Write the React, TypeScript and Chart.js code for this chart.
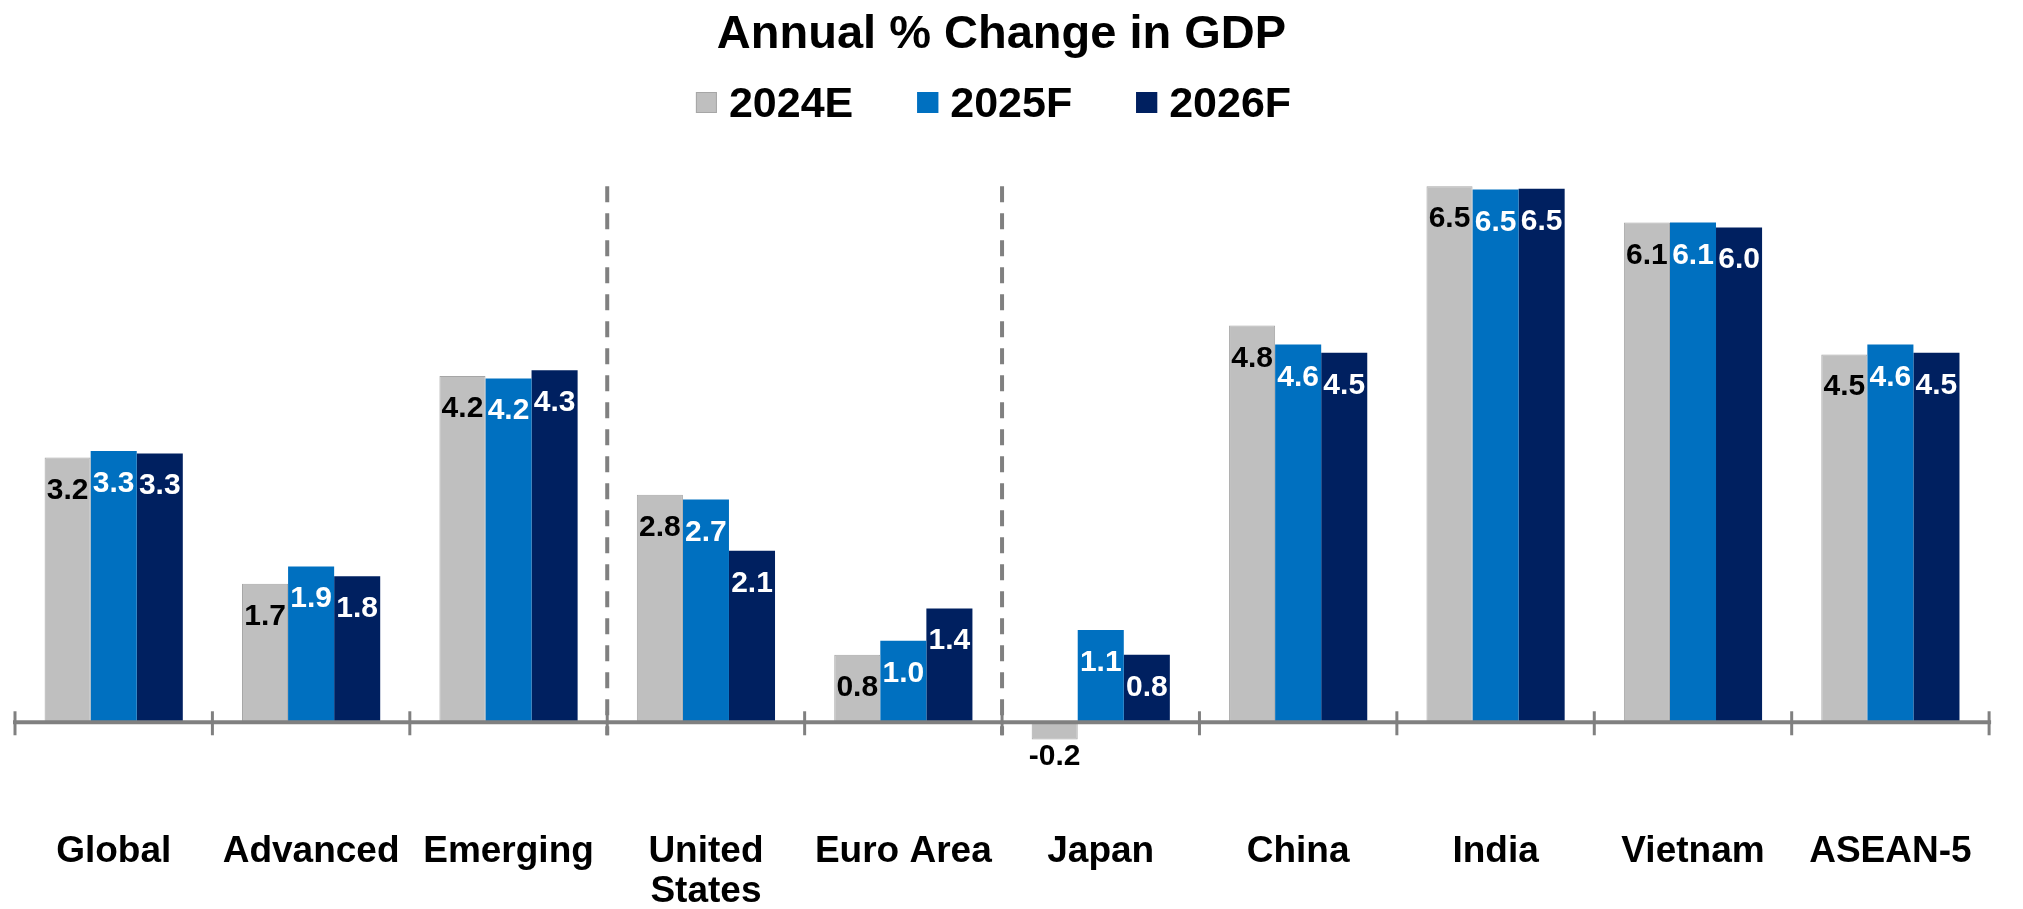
import React, { useEffect, useRef } from "react";
import { Chart, registerables } from "chart.js";

Chart.register(...registerables);

// ---------- data ----------
const categories: (string | string[])[] = [
  "Global",
  "Advanced",
  "Emerging",
  ["United", "States"],
  "Euro Area",
  "Japan",
  "China",
  "India",
  "Vietnam",
  "ASEAN-5",
];
const seriesNames = ["2024E", "2025F", "2026F"];
const values2024E = [3.21, 1.68, 4.2, 2.76, 0.82, -0.21, 4.81, 6.5, 6.06, 4.46];
const values2025F = [3.29, 1.89, 4.17, 2.7, 0.99, 1.12, 4.58, 6.46, 6.06, 4.58];
const values2026F = [3.26, 1.77, 4.27, 2.08, 1.38, 0.82, 4.48, 6.47, 6.0, 4.48];
const titleText = "Annual % Change in GDP";

// ---------- styling ----------
const seriesColors = ["#BFBFBF", "#0070C0", "#002060"];
const seriesBorders = ["#A6A6A6", "#0070C0", "#002060"];
const labelColors = ["#000000", "#FFFFFF", "#FFFFFF"];
const dividerAfter = [2, 4]; // dashed separators after these category indexes
const dividerTopValue = 6.5;
const yMin = -0.7;
const yMax = 7.0;
const FONT = '"Liberation Sans", Arial, Helvetica, sans-serif';
const AXIS_GRAY = "#808080";
const X_AXIS_HEIGHT = 129;

const decorPlugin = {
  id: "decor",
  beforeDatasetsDraw(chart: any) {
    const { ctx } = chart;
    const x = chart.scales.x;
    const y = chart.scales.y;
    const n = chart.data.labels.length;
    const w = (x.right - x.left) / n;
    const y0 = y.getPixelForValue(0);
    const yTop = y.getPixelForValue(dividerTopValue);
    ctx.save();
    ctx.strokeStyle = AXIS_GRAY;
    ctx.lineWidth = 4;
    ctx.setLineDash([16, 11]);
    dividerAfter.forEach((i) => {
      const bx = x.left + (i + 1) * w;
      ctx.beginPath();
      ctx.moveTo(bx, yTop);
      ctx.lineTo(bx, y0 + 13);
      ctx.stroke();
    });
    ctx.restore();
  },
  afterDatasetsDraw(chart: any) {
    const { ctx } = chart;
    const x = chart.scales.x;
    const y = chart.scales.y;
    const n = chart.data.labels.length;
    const w = (x.right - x.left) / n;
    const y0 = y.getPixelForValue(0);
    ctx.save();
    // axis line
    ctx.strokeStyle = AXIS_GRAY;
    ctx.lineWidth = 4;
    ctx.beginPath();
    ctx.moveTo(x.left - 2, y0);
    ctx.lineTo(x.right + 2, y0);
    ctx.stroke();
    // tick marks at category boundaries
    ctx.lineWidth = 3;
    for (let k = 0; k <= n; k++) {
      const bx = x.left + k * w;
      ctx.beginPath();
      ctx.moveTo(bx, y0 - 11);
      ctx.lineTo(bx, y0 + 13);
      ctx.stroke();
    }
    // data labels
    ctx.font = `bold 30px ${FONT}`;
    ctx.textAlign = "center";
    ctx.textBaseline = "alphabetic";
    chart.data.datasets.forEach((ds: any, di: number) => {
      const meta = chart.getDatasetMeta(di);
      meta.data.forEach((bar: any, i: number) => {
        const v = ds.data[i] as number;
        const txt = v.toFixed(1);
        if (v >= 0) {
          ctx.fillStyle = labelColors[di];
          ctx.fillText(txt, bar.x, bar.y + 41);
        } else {
          ctx.fillStyle = "#000000";
          ctx.fillText(txt, bar.x, bar.y + 25);
        }
      });
    });
    ctx.restore();
  },
  afterDraw(chart: any) {
    const { ctx } = chart;
    const cx = chart.width / 2;
    ctx.save();
    // title
    ctx.fillStyle = "#000000";
    ctx.font = `bold 47px ${FONT}`;
    ctx.textAlign = "center";
    ctx.textBaseline = "alphabetic";
    ctx.fillText(titleText, cx - 10, 48);
    // legend
    ctx.font = `bold 43px ${FONT}`;
    ctx.textAlign = "left";
    const box = 21;
    const gap = 12;
    const spacing = 64;
    const widths = chart.data.datasets.map((d: any) => ctx.measureText(d.label).width);
    const total =
      widths.reduce((a: number, b: number) => a + b, 0) +
      widths.length * (box + gap) +
      (widths.length - 1) * spacing;
    let lx = cx - 18 - total / 2;
    const baseY = 117;
    chart.data.datasets.forEach((d: any, i: number) => {
      ctx.fillStyle = seriesColors[i];
      ctx.fillRect(lx, baseY - 25, box, box);
      ctx.strokeStyle = seriesBorders[i];
      ctx.lineWidth = 1;
      ctx.strokeRect(lx + 0.5, baseY - 24.5, box - 1, box - 1);
      ctx.fillStyle = "#000000";
      ctx.fillText(d.label, lx + box + gap, baseY);
      lx += box + gap + widths[i] + spacing;
    });
    ctx.restore();
  },
};

export default function App() {
  const canvasRef = useRef<HTMLCanvasElement | null>(null);

  useEffect(() => {
    if (!canvasRef.current) return;
    const seriesValues = [values2024E, values2025F, values2026F];
    const chart = new Chart(canvasRef.current, {
      type: "bar",
      data: {
        labels: categories as any,
        datasets: seriesNames.map((name, i) => ({
          label: name,
          data: seriesValues[i],
          backgroundColor: seriesColors[i],
          borderColor: seriesBorders[i],
          borderWidth: i === 0 ? 1 : 0,
          categoryPercentage: 0.7,
          barPercentage: 1.0,
        })),
      },
      options: {
        responsive: false,
        animation: false,
        devicePixelRatio: 1,
        layout: { padding: { top: 145, left: 15, right: 8, bottom: 0 } },
        plugins: {
          legend: { display: false },
          title: { display: false },
          tooltip: { enabled: false },
        },
        scales: {
          x: {
            grid: { display: false, drawTicks: false },
            border: { display: false },
            afterFit: (scale: any) => {
              scale.height = X_AXIS_HEIGHT;
            },
            ticks: {
              color: "#000000",
              padding: 51,
              autoSkip: false,
              maxRotation: 0,
              minRotation: 0,
              font: { family: FONT, size: 37, weight: "bold", lineHeight: 1.1 },
            },
          },
          y: {
            display: false,
            min: yMin,
            max: yMax,
          },
        },
      },
      plugins: [decorPlugin],
    });
    return () => chart.destroy();
  }, []);

  return (
    <div style={{ position: "fixed", left: 0, top: 0, width: 2023, height: 909, background: "#ffffff" }}>
      <canvas ref={canvasRef} width={2023} height={909} style={{ display: "block" }} />
    </div>
  );
}
